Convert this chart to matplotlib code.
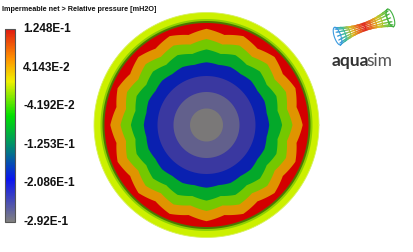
import numpy as np
import matplotlib
matplotlib.use("Agg")
import matplotlib.pyplot as plt
import matplotlib.transforms as mtransforms
from matplotlib.colors import LinearSegmentedColormap, Normalize
from matplotlib.cm import ScalarMappable

# colour bands of the net, centre outwards (outer radius in px, wave amplitude in px)
band_colors = ['#7a7878', '#62608c', '#3a38a0', '#0a20b0', '#04a82a', '#74c800',
               '#e09400', '#d40000', '#4c7800', '#8cd000', '#ccf000']
band_radii = [16.5, 33, 49, 62, 74, 84, 94, 102, 104, 106, 112.5]
band_waves = [0, 0, 0, 0.7, 1.6, 2.0, 2.2, 0, 0, 0, 0]
n_lobes = 16

# colour bar
cbar_ticks = [1.248E-1, 4.143E-2, -4.192E-2, -1.253E-1, -2.086E-1, -2.92E-1]
cbar_labels = ['1.248E-1', '4.143E-2', '-4.192E-2', '-1.253E-1', '-2.086E-1', '-2.92E-1']
cmap_nodes = [0.0, 0.22, 0.40, 0.55, 0.73, 0.85, 1.0]
cmap_colors = ['#808080', '#0a14f0', '#00906a', '#00e000', '#f0f000', '#ff9000', '#e01a10']

W, H = 414, 253
cx, cy = 206.5, 126

fig = plt.figure(figsize=(W / 100, H / 100), dpi=100)
ax = fig.add_axes([0, 0, 1, 1])
ax.set_xlim(0, W)
ax.set_ylim(H, 0)
ax.axis('off')

theta = np.linspace(0, 2 * np.pi, 1601)
s = (theta * n_lobes / (2 * np.pi)) % 1
tri = 4 * np.abs(s - 0.5) - 1

# draw from outside in
for col, r0, amp in reversed(list(zip(band_colors, band_radii, band_waves))):
    r = r0 + amp * tri
    ax.fill(cx + r * np.cos(theta), cy - r * np.sin(theta), color=col, lw=0)
ax.plot(cx + band_radii[-1] * np.cos(theta), cy - band_radii[-1] * np.sin(theta),
        color='#d8f060', lw=0.6)

ax.text(2, 9, 'Impermeable net > Relative pressure [mH2O]', fontsize=5.2,
        fontweight='bold', family='Liberation Sans', va='center', ha='left', color='#111111')

# colour bar
cmap = LinearSegmentedColormap.from_list('aq', list(zip(cmap_nodes, cmap_colors)))
cax = fig.add_axes([5 / W, (H - 223) / H, 10 / W, 193 / H])
sm = ScalarMappable(norm=Normalize(vmin=cbar_ticks[-1], vmax=cbar_ticks[0]), cmap=cmap)
cb = fig.colorbar(sm, cax=cax)
cb.set_ticks(cbar_ticks)
cb.set_ticklabels(cbar_labels)
cb.outline.set_edgecolor('#555555')
cb.outline.set_linewidth(0.8)
cax.tick_params(length=0, pad=6)
shift = mtransforms.ScaledTranslation(0, 2.5 / 100, fig.dpi_scale_trans)
for lab in cax.get_yticklabels():
    lab.set_fontsize(8.5)
    lab.set_fontweight('bold')
    lab.set_family('Liberation Sans')
    lab.set_color('#111111')
    lab.set_transform(lab.get_transform() + shift)

# logo: hyperboloid wireframe, drawn in pixel units
lax = fig.add_axes([326 / W, (H - 50) / H, 76 / W, 46 / H])
lax.set_xlim(326, 402)
lax.set_ylim(50, 4)
lax.axis('off')
lx, ly, half_len = 364, 28, 28
rot = np.deg2rad(19)
logo_cmap = LinearSegmentedColormap.from_list(
    'lg', ['#3a9ae0', '#40c090', '#d8c020', '#e87020', '#e02a20',
           '#e87020', '#d8c020', '#80c840', '#40b040'])

def to_px(u, v):
    # u along the axis, v across it (pixels)
    x = lx + u * np.cos(rot) + v * np.sin(rot)
    y = ly - u * np.sin(rot) + v * np.cos(rot)
    return x, y

t = np.linspace(-1, 1, 50)
rho = 3.8 + 5.5 * t ** 2
for phi in np.linspace(0.2, np.pi - 0.2, 7):
    xs, ys = to_px(t * half_len, rho * np.cos(phi))
    for i in range(len(t) - 1):
        lax.plot(xs[i:i + 2], ys[i:i + 2], color=logo_cmap((t[i] + 1) / 2), lw=0.8)
for tk in np.linspace(-1, 1, 11):
    rk = 3.8 + 5.5 * tk ** 2
    ph = np.linspace(0, 2 * np.pi if abs(tk) == 1 else np.pi, 40)
    xs, ys = to_px(tk * half_len + 0.35 * rk * np.sin(ph), rk * np.cos(ph))
    lax.plot(xs, ys, color=logo_cmap((tk + 1) / 2), lw=0.8)

t1 = fig.text(332 / W, 1 - 66 / H, 'aqua', fontsize=12.5, fontweight='bold', color='#333333',
              family='Lato', ha='left', va='baseline')
fig.canvas.draw()
bb = t1.get_window_extent()
fig.text((bb.x1 - 3) / W, 1 - 66 / H, 'sim', fontsize=12.5, color='#555555',
         family='Lato', ha='left', va='baseline')

fig.savefig('out.png', dpi=100)
